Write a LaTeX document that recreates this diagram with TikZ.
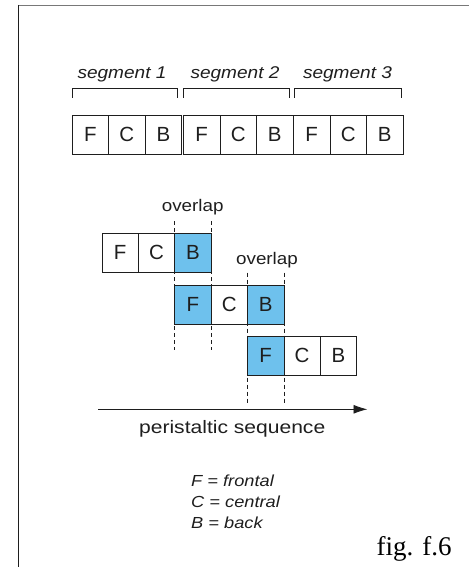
\documentclass[tikz,border=0pt]{standalone}
\usepackage{fontspec}
\setmainfont{Liberation Sans}
\newfontfamily\figfont{Liberation Serif}
\usepackage{graphicx}
\usetikzlibrary{arrows.meta,calc}
\definecolor{cellblue}{RGB}{110,193,237}
\definecolor{ink}{RGB}{30,30,30}
\definecolor{framegray}{RGB}{120,120,120}
\newcommand{\wtext}[2]{\scalebox{#1}[1]{#2}}
\begin{document}
\begin{tikzpicture}[x=1pt,y=-1pt,
  cell/.style={draw=ink, line width=0.8pt, minimum width=36.6pt, minimum height=39pt,
    inner sep=0pt, font=\fontsize{20.5}{24}\selectfont, text=ink},
  lcell/.style={cell, minimum width=36.4pt, minimum height=39.5pt},
  hot/.style={lcell, fill=cellblue},
  seglabel/.style={anchor=base, inner sep=0pt, font=\fontsize{17}{20}\selectfont\itshape, text=ink},
  ovlabel/.style={anchor=base, inner sep=0pt, font=\fontsize{16.8}{20}\selectfont, text=ink},
  legend/.style={anchor=base west, inner sep=0pt, font=\fontsize{16}{19}\selectfont\itshape, text=ink},
  bracket/.style={draw=ink, line width=0.7pt},
  guide/.style={draw=ink, line width=0.7pt, dash pattern=on 4pt off 3pt},
  seqarrow/.style={draw=ink, line width=0.9pt, -{Latex[length=14pt,width=9pt]}}
]
\useasboundingbox (0,0) rectangle (469,567);

% frame
\draw[framegray, line width=1pt] (18,5.5) -- (469,5.5);
\draw[ink, line width=1pt] (18,5) -- (18,567);

% top row: three segments
\node[cell] (s1F) at (90.3,134.5) {F};
\node[cell] (s1C) at (126.9,134.5) {C};
\node[cell] (s1B) at (163.5,134.5) {B};
\node[cell] (s2F) at (201.6,134.5) {F};
\node[cell] (s2C) at (238.2,134.5) {C};
\node[cell] (s2B) at (274.8,134.5) {B};
\node[cell] (s3F) at (311.6,134.5) {F};
\node[cell] (s3C) at (348.2,134.5) {C};
\node[cell] (s3B) at (384.8,134.5) {B};

% brackets
\draw[bracket] (72,98) -- (72,88) -- (177.3,88) -- (177.3,98);
\draw[bracket] (183.3,98) -- (183.3,88) -- (289.3,88) -- (289.3,98);
\draw[bracket] (294,98) -- (294,88) -- (401,88) -- (401,98);

% segment labels
\node[seglabel] (lab1) at (122,78.3) {\wtext{1.12}{segment 1}};
\node[seglabel] (lab2) at (235,78.3) {\wtext{1.12}{segment 2}};
\node[seglabel] (lab3) at (347.5,78.3) {\wtext{1.12}{segment 3}};

% lower rows
\node[lcell] (r1F) at (120.1,252.7) {F};
\node[lcell] (r1C) at (156.5,252.7) {C};
\node[hot]   (r1B) at (192.9,252.7) {B};
\node[hot]   (r2F) at (192.9,304.7) {F};
\node[lcell] (r2C) at (229.3,304.7) {C};
\node[hot]   (r2B) at (265.7,304.7) {B};
\node[hot]   (r3F) at (265.7,355.7) {F};
\node[lcell] (r3C) at (302.1,355.7) {C};
\node[lcell] (r3B) at (338.5,355.7) {B};

% dashed overlap guides
\coordinate (g1a) at ($(r1B.north west)+(0,-11.5)$);
\coordinate (g1b) at ($(r2F.south west)+(0,25)$);
\coordinate (g2a) at ($(r1B.north east)+(0,-11.5)$);
\coordinate (g2b) at ($(r2F.south east)+(0,25)$);
\coordinate (g3a) at ($(r2B.north west)+(0,-12)$);
\coordinate (g3b) at ($(r3F.south west)+(0,27)$);
\coordinate (g4a) at ($(r2B.north east)+(0,-12)$);
\coordinate (g4b) at ($(r3F.south east)+(0,27)$);
\draw[guide] (g1a) -- (g1b);
\draw[guide] (g2a) -- (g2b);
\draw[guide] (g3a) -- (g3b);
\draw[guide] (g4a) -- (g4b);

% overlap labels
\node[ovlabel] (ov1) at (192.7,211.7) {\wtext{1.12}{overlap}};
\node[ovlabel] (ov2) at (267,264) {\wtext{1.12}{overlap}};

% peristaltic arrow
\coordinate (arrS) at (98.3,409.3);
\coordinate (arrE) at (367.5,409.3);
\draw[seqarrow] (arrS) -- (arrE);
\node[anchor=base, inner sep=0pt, font=\fontsize{18}{21}\selectfont, text=ink] (seq) at (232.2,433.3) {\wtext{1.17}{peristaltic sequence}};

% legend
\node[legend] (legF) at (191,486.7) {\wtext{1.14}{F = frontal}};
\node[legend] (legC) at (191,507.7) {\wtext{1.14}{C = central}};
\node[legend] (legB) at (191,528) {\wtext{1.14}{B = back}};

% figure tag
\node[anchor=base west, inner sep=0pt, font=\figfont\fontsize{27}{30}\selectfont, text=black] (fig) at (376.5,555) {fig. f.6};
\end{tikzpicture}
\end{document}
